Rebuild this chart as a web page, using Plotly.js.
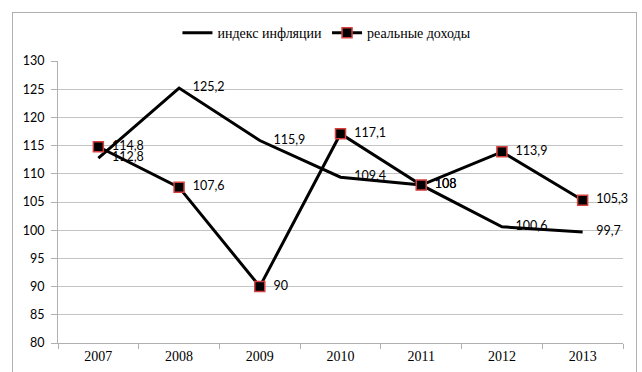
<!DOCTYPE html>
<html>
<head>
<meta charset="utf-8">
<script src="https://cdn.plot.ly/plotly-3.0.1.min.js"></script>
<style>
  html, body { margin: 0; padding: 0; background: #fff; }
  #wrap { position: relative; width: 642px; height: 372px; overflow: hidden; }
  #chart { position: absolute; left: 0; top: 0; width: 642px; height: 372px; }
  #frame { position: absolute; left: 12px; top: 12px; width: 623px; height: 400px;
           border: 1px solid #b0b0b0; pointer-events: none; }
</style>
</head>
<body>
<div id="wrap">
  <div id="chart"></div>
  <div id="frame"></div>
</div>
<script>
// Years on the category axis
const years = ['2007', '2008', '2009', '2010', '2011', '2012', '2013'];
// Inflation index, %
const inflation = [112.8, 125.2, 115.9, 109.4, 108, 100.6, 99.7];
// Real incomes, %
const realIncome = [114.8, 107.6, 90, 117.1, 108, 113.9, 105.3];
// Y axis ticks
const yTicks = [80, 85, 90, 95, 100, 105, 110, 115, 120, 125, 130];

// Decimal comma, with a little padding between the point and its value label
const fmt = v => '\u00a0\u00a0' + String(v).replace('.', ',');

const labelFont = { family: 'Lato, Calibri, sans-serif', size: 12.5, color: '#000' };

const traces = [
  {
    x: years, y: inflation, name: 'индекс инфляции', type: 'scatter',
    mode: 'lines+markers+text',
    line: { color: '#000', width: 3 },
    marker: { size: 10, color: 'rgba(0,0,0,0)', line: { width: 0 } },
    text: inflation.map(fmt), textposition: 'middle right', textfont: labelFont,
    cliponaxis: false, hoverinfo: 'x+y'
  },
  {
    x: years, y: realIncome, name: 'реальные доходы', type: 'scatter',
    mode: 'lines+markers+text',
    line: { color: '#000', width: 3 },
    marker: { symbol: 'square', size: 10, color: '#000', line: { color: '#d84040', width: 1.5 } },
    text: realIncome.map(fmt), textposition: 'middle right', textfont: labelFont,
    cliponaxis: false, hoverinfo: 'x+y'
  }
];

const layout = {
  width: 642, height: 372,
  margin: { l: 58, r: 19, t: 61, b: 29 },
  paper_bgcolor: '#fff', plot_bgcolor: '#fff',
  showlegend: true,
  legend: {
    orientation: 'h', x: 0.476, xanchor: 'center', y: 1.099, yanchor: 'middle',
    font: { family: '"Liberation Serif", "Times New Roman", serif', size: 14, color: '#000' },
    itemwidth: 30, traceorder: 'normal'
  },
  xaxis: {
    type: 'category', range: [-0.5, 6.5],
    showline: true, linecolor: '#b0b0b0', linewidth: 1,
    showgrid: false, zeroline: false,
    ticks: 'outside', tickson: 'boundaries', ticklen: 5, tickcolor: '#b0b0b0',
    tickfont: { family: '"Liberation Serif", "Times New Roman", serif', size: 14, color: '#000' },
    fixedrange: true
  },
  yaxis: {
    range: [80, 130], tickvals: yTicks, ticktext: yTicks.map(String),
    showline: true, linecolor: '#b0b0b0', linewidth: 1,
    showgrid: true, gridcolor: '#c4c4c4', gridwidth: 1, zeroline: false,
    ticks: 'outside', ticklen: 6, tickcolor: '#b0b0b0',
    tickfont: { family: 'Lato, Calibri, sans-serif', size: 12.5, color: '#000' },
    ticklabelstandoff: 4,
    fixedrange: true
  }
};

Plotly.newPlot('chart', traces, layout, { displayModeBar: false, staticPlot: true });
</script>
</body>
</html>
